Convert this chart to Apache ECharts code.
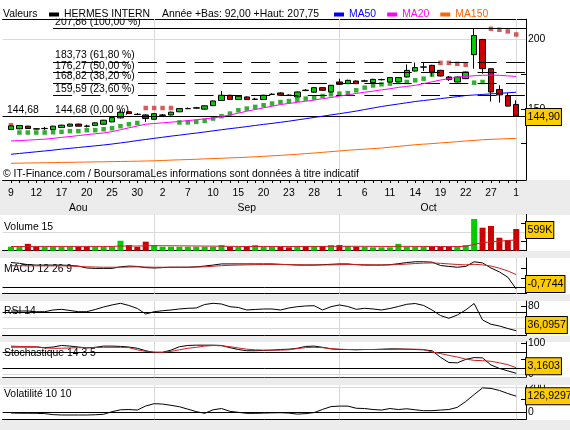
<!DOCTYPE html>
<html>
<head>
<meta charset="utf-8">
<script src="https://cdn.jsdelivr.net/npm/echarts@6/dist/echarts.min.js"></script>
<style>
html,body{margin:0;padding:0;background:#ececec;}
#chart{width:570px;height:430px;}
</style>
</head>
<body>
<div id="chart"></div>
<script>
// ================= DATA =================
const dayLabels = [9,10,11,12,13,16,17,18,19,20,23,24,25,26,27,30,31,
  1,2,3,6,7,8,9,10,13,14,15,16,17,20,21,22,23,24,27,28,29,30,
  1,4,5,6,7,8,11,12,13,14,15,18,19,20,21,22,25,26,27,28,29,
  1];
const monthNames = ['Aou', 'Sep', 'Oct'];
const monthLabelPos = [8, 28, 49.6];

const open  = [135.1,135.6,137.5,135.6,135.7,135.1,136.5,137.5,139.0,137.6,
  138.0,138.9,140.6,143.5,147.9,146.1,145.6,142.5,145.3,145.6,
  147.9,150.1,150.5,149.8,152.3,156.0,159.8,156.7,158.6,156.8,
  156.7,160.4,161.5,159.9,158.6,163.5,162.0,165.3,162.2,169.4,
  168.2,170.1,170.0,168.9,171.0,169.4,169.6,173.0,177.3,180.1,
  181.4,177.8,173.0,169.4,171.8,189.1,200.1,179.0,164.0,159.5,153.2];
const close = [137.7,138.0,135.8,135.4,135.9,137.5,138.2,139.0,137.5,137.4,
  139.9,141.8,143.7,147.5,146.6,145.9,143.0,146.5,145.6,147.6,
  150.2,150.3,150.8,152.2,155.7,159.8,156.8,159.1,156.7,157.0,
  159.8,160.6,159.9,159.7,162.2,163.2,165.3,163.4,167.0,167.7,
  170.6,168.2,170.2,171.3,171.2,172.6,172.6,177.8,179.8,180.3,
  176.6,173.7,171.1,173.0,176.6,203.0,179.0,162.2,160.1,152.0,144.9];
const low   = [134.8,135.3,135.5,135.0,134.6,134.8,136.2,137.2,137.2,136.6,
  137.7,138.6,140.3,143.0,146.3,145.5,140.6,142.0,145.0,145.3,
  147.6,149.8,150.2,149.5,152.0,155.8,156.5,156.4,156.4,156.5,
  156.4,160.1,159.5,159.3,158.3,162.8,161.7,163.1,162.0,167.4,
  167.9,167.9,169.5,168.6,170.5,169.1,169.3,172.7,177.0,177.3,
  173.5,173.4,170.1,169.1,171.5,179.0,175.4,155.3,154.5,151.7,144.6];
const high  = [138.0,138.3,137.8,136.0,137.0,137.8,138.6,139.3,139.3,138.6,
  140.2,142.0,144.0,149.3,148.3,147.0,146.0,147.0,146.3,148.0,
  150.6,151.0,151.4,152.5,156.0,162.9,160.2,159.5,159.0,158.0,
  160.2,161.2,162.0,160.5,162.5,164.2,165.6,165.6,167.3,171.8,
  171.0,170.5,171.0,171.7,171.8,172.9,173.0,182.1,183.4,183.1,
  181.8,178.1,173.7,173.3,176.9,207.75,200.5,179.3,167.0,161.5,156.2];

const sar = [138.2,132.9,132.9,132.9,132.9,133.1,133.4,133.9,133.9,134.6,
  134.6,135.3,136.0,137.5,138.9,139.8,150.6,150.6,150.6,150.6,
  140.2,140.2,140.6,141.4,143.0,144.7,146.6,149.0,150.2,151.4,
  152.6,153.8,154.9,155.6,156.6,157.4,158.1,159.3,160.5,161.0,
  161.4,163.4,165.3,166.9,167.7,168.2,169.4,169.4,170.6,171.8,
  174.7,183.2,183.2,182.5,181.8,168.9,169.4,207.8,207.1,205.9,203.7];

const ma20 = [126.8,127.1,127.4,127.8,128.1,128.7,129.4,130.0,130.7,131.4,
  132.0,132.6,133.5,134.9,136.3,137.6,138.9,139.4,139.9,140.4,
  140.9,141.5,142.1,142.8,143.4,144.4,145.6,146.9,148.3,149.5,
  150.7,151.9,153.1,153.9,154.7,155.5,156.3,157.3,158.2,159.2,
  160.1,161.1,162.0,162.8,163.7,164.5,165.5,166.2,167.0,168.2,
  169.5,170.8,171.8,172.9,173.4,173.9,174.2,174.4,174.2,173.8,173.4];
const ma50 = [117.2,117.8,118.4,119.0,119.6,120.2,120.9,121.5,122.1,122.7,
  123.3,123.9,124.6,125.4,126.2,127.1,127.9,128.7,129.5,130.3,
  131.0,131.8,132.5,133.3,134.1,134.9,135.7,136.4,137.2,138.0,
  138.8,139.5,140.3,141.1,142.0,142.9,143.8,144.7,145.6,146.5,
  147.4,148.4,149.5,150.6,151.7,152.6,153.5,154.4,155.3,156.0,
  156.7,157.4,158.1,158.8,159.6,160.0,160.4,160.8,161.2,161.6,162.0];
const ma150 = [110.7,110.8,110.9,111.0,111.1,111.2,111.3,111.4,111.5,111.6,
  111.7,111.8,111.9,112.0,112.1,112.2,112.35,112.5,112.7,113.0,
  113.2,113.4,113.6,113.9,114.1,114.3,114.6,114.8,115.1,115.4,
  115.7,116.1,116.4,116.8,117.2,117.7,118.1,118.6,119.1,119.6,
  120.1,120.5,120.9,121.3,121.7,122.3,122.9,123.5,124.1,124.5,
  124.9,125.4,125.8,126.3,126.8,127.2,127.7,128.0,128.2,128.5,128.7];

// volume in thousands
const volume = [110,110,190,110,110,110,110,110,110,110,
  110,110,110,275,155,110,250,155,110,110,
  110,110,110,110,110,155,110,110,110,155,
  110,110,110,95,130,130,130,130,155,155,
  130,110,110,95,95,95,190,110,110,110,
  110,110,110,110,155,875,635,682,359,295,599];
const volMA15 = [116,116,118,118,118,118,118,118,118,118,
  118,118,118,128,130,130,135,138,138,136,
  134,132,130,128,126,124,120,118,116,116,
  117,117,117,116,117,118,118,118,120,122,
  122,122,121,120,118,117,120,120,119,118,
  117,116,115,115,120,175,220,245,262,280,300];

const macd = [12.8,12.4,11.7,11.5,11.5,11.5,11.5,11.3,11.0,10.0,
  9.8,9.8,9.8,10.6,11.0,10.8,10.2,10.0,10.2,10.4,
  10.4,10.4,10.6,11.0,11.5,12.1,12.1,12.1,12.1,12.1,
  12.1,12.1,11.9,11.7,11.5,11.5,11.5,11.7,11.9,12.1,
  12.1,11.7,11.5,11.5,11.5,11.7,12.2,12.8,13.2,13.2,
  13.0,11.3,10.8,10.4,10.8,13.2,12.6,10.0,8.0,5.3,-0.7744];
const macdSignal = [11.2,11.2,11.1,11.1,11.1,11.1,11.1,11.0,10.8,10.6,
  10.5,10.4,10.4,10.4,10.5,10.6,10.5,10.4,10.4,10.4,
  10.4,10.4,10.5,10.6,10.9,11.2,11.4,11.5,11.6,11.7,
  11.8,11.8,11.8,11.8,11.7,11.6,11.6,11.6,11.6,11.7,
  11.8,11.8,11.7,11.6,11.6,11.6,11.8,12.0,12.3,12.5,
  12.6,12.4,12.1,11.8,11.6,11.9,11.6,11.0,9.9,8.5,6.6];

const rsi = [71.4,71.4,71.4,70.1,70.1,73.2,74.4,72.3,70.1,70.1,
  74.1,78.6,82.2,85.2,81.3,75.9,66.0,70.1,71.9,73.2,
  75.0,76.2,76.8,83.0,85.2,83.9,79.1,77.7,73.2,74.1,
  75.0,75.0,73.2,76.8,79.1,80.4,80.9,73.2,79.1,82.2,
  79.5,74.4,76.2,75.0,73.2,75.9,79.5,83.4,84.8,81.3,
  73.2,63.3,58.3,64.2,73.2,84.8,55.3,47.6,44.5,40.0,36.0957];

const stochK = [88,88,88,88,86,88,93,91,88,85,
  87,91,91,90,88,84,76,70,71,78,
  89,93,94,94,94,93,86,80,76,76,
  77,78,80,81,84,90,91,87,82,80,
  80,79,80,80,81,82,82,81,80,79,
  76,55,38,37,48,54,53,30,19,11,3.1603];
const stochD = [91,90,89.5,89,85,84,84,85,86,86,
  86,87,87,87,86,79,74,72,71,74,
  79,84,87,91,93,92,89,85,81,79,
  78,78,78,79,83,86,87,86,83,81,
  80,80,80,80,80,80,81,81,81,80,
  72,67,61,56,49,45,44,42,37,31,21.3];

const volatility = [-5,-7,-7,-8,-10,-18,-21,-21,-21,-21,
  -19,-15,5,20,22,18,50,68,65,55,
  44,25,6,-8,20,30,8,0,-8,-8,
  -6,-4,-3,-6,-14,-10,-2,23,45,49,
  49,32,30,22,18,30,22,28,20,13,
  13,18,22,39,85,140,192,188,172,148,126.9297];

const fibLevels = [207.86, 183.73, 176.27, 168.82, 159.59, 144.68];
const fibPercents = ['100,00', '61,80', '50,00', '38,20', '23,60', '0,00'];
const fibStartIndex = 5;

const mainTicks = [125, 150, 175, 200];
const mainLabels = [150, 200];

// ================= LAYOUT / STYLE =================
const FONT = '"Liberation Sans", Arial, sans-serif';
const FS = 10.4;
const X_MIN = -1, X_MAX = 61.16;
const G_LEFT = 2.58, G_RIGHT = 44;
const BOX_DX = 9.3;
const GREY = '#d9d9d9';
const panels = [
  {top: 19,    height: 161,  min: 98.63, max: 214.87},
  {top: 214.5, height: 36.2, min: 0,     max: 1000},
  {top: 258,   height: 35.7, min: -3.18, max: 15.13},
  {top: 301,   height: 34.3, min: 27.85, max: 89.3},
  {top: 341.7, height: 35.6, min: -9.68, max: 105.2},
  {top: 385,   height: 34.3, min: -54.7, max: 214.8}
];

const idx = dayLabels.map((_, i) => i);
const lastI = dayLabels.length - 1;
const pairs = arr => arr.map((v, i) => [i, v]);
const comma = (v, d) => v.toFixed(d).replace('.', ',');
const monthStarts = idx.filter(i => i > 0 && dayLabels[i] < dayLabels[i - 1]);

function gridLines(greyH, blackH) {
  const data = [];
  monthStarts.forEach(i => data.push({xAxis: i, lineStyle: {color: GREY, width: 1, type: 'solid'}}));
  greyH.forEach(v => data.push({yAxis: v, lineStyle: {color: GREY, width: 1, type: 'solid'}}));
  blackH.forEach(v => data.push({yAxis: v, lineStyle: {color: '#000', width: 1, type: 'solid'}}));
  return {silent: true, symbol: 'none', z: 1, animation: false, label: {show: false}, data};
}
function valueBox(value, text, dy) {
  return {
    silent: true, z: 10, animation: false,
    symbol: 'rect', symbolSize: 1, itemStyle: {color: 'rgba(0,0,0,0)'},
    label: {show: true, position: 'right', distance: 0, offset: [BOX_DX, dy],
      formatter: text, backgroundColor: '#ffcc00', borderColor: '#000', borderWidth: 1,
      padding: [3, 1, 2, 1.5], color: '#000', fontSize: 10.6, fontFamily: FONT},
    data: [{coord: [lastI, value]}]
  };
}
const fibLabel = {show: true, position: 'insideStartTop', distance: [2, 1.5], color: '#000', fontSize: FS, fontFamily: FONT};
const fibMarkLine = {
  silent: true, symbol: 'none', z: 3, animation: false, label: {show: false},
  data: [
    {yAxis: fibLevels[fibLevels.length - 1], lineStyle: {color: '#000', width: 1, type: 'solid'},
      label: Object.assign({}, fibLabel, {distance: [4.4, 1.5], formatter: comma(fibLevels[fibLevels.length - 1], 2)})}
  ].concat(fibLevels.map((lv, k) => [
    {coord: [fibStartIndex, lv],
      lineStyle: {color: '#000', width: 1, type: (k === 0 || k === fibLevels.length - 1) ? 'solid' : [19, 9.3]},
      label: Object.assign({}, fibLabel, {formatter: comma(lv, 2) + ' (' + fibPercents[k] + ' %)'})},
    {coord: [X_MAX, lv]}
  ]))
};

function xAxisFor(g) {
  const ax = {gridIndex: g, type: 'value', min: X_MIN, max: X_MAX, position: 'bottom',
    axisLine: {show: true, onZero: false, lineStyle: {color: '#000', width: 1}},
    axisTick: {show: false}, axisLabel: {show: false}, splitLine: {show: false}};
  if (g === 0) {
    ax.axisTick = {show: true, length: 3, customValues: idx, lineStyle: {color: '#000'}};
    ax.axisLabel = {show: true, customValues: idx.filter(i => i % 3 === 0),
      formatter: v => String(dayLabels[v]), margin: 8, color: '#000', fontSize: FS, fontFamily: FONT};
  }
  return ax;
}
function yAxisFor(g, ticks, labels) {
  const p = panels[g];
  return {gridIndex: g, type: 'value', position: 'right', min: p.min, max: p.max,
    axisLine: {show: true, onZero: false, lineStyle: {color: '#000', width: 1}},
    axisTick: {show: true, inside: true, length: 5, customValues: ticks, lineStyle: {color: '#000'}},
    axisLabel: {show: labels.length > 0, customValues: labels, margin: 2, color: '#000',
      fontSize: FS, fontFamily: FONT, formatter: v => String(v)},
    splitLine: {show: false}};
}

const whiteRects = [[0, 0, 180], [0, 215, 36], [0, 258, 36], [0, 301, 34.5], [0, 342, 35.5], [0, 385, 35]];

const mkTitle = (text, left, top, z) => ({text, left, top, padding: 0, z,
  textStyle: {color: '#000', fontSize: FS, fontWeight: 'normal', fontFamily: FONT}});

const option = {
  animation: false,
  backgroundColor: '#ececec',
  textStyle: {fontFamily: FONT},
  graphic: whiteRects.map(r => ({type: 'rect', silent: true, z: -10,
      shape: {x: r[0], y: r[1], width: 570, height: r[2]}, style: {fill: '#ffffff'}}))
    .concat([
      {type: 'rect', silent: true, z: 10, shape: {x: 0, y: 0, width: 570, height: 18.5}, style: {fill: '#ffffff'}},
      {type: 'rect', silent: true, z: 10, shape: {x: 0, y: 377.8, width: 570, height: 7}, style: {fill: '#ececec'}}
    ]),
  title: [
    mkTitle('Valeurs', 3, 9.5, 12),
    mkTitle('Année +Bas: 92,00 +Haut: 207,75', 162, 9.5, 12),
    mkTitle('© IT-Finance.com / BoursoramaLes informations sont données à titre indicatif', 3, 169, 1),
    mkTitle('Volume 15', 4, 221.7, 1),
    mkTitle('MACD 12 26 9', 4, 264.5, 1),
    mkTitle('RSI 14', 4, 306, 1),
    mkTitle('Stochastique 14 3 5', 4, 348.3, 1),
    mkTitle('Volatilité 10 10', 4, 389.3, 1)
  ],
  legend: [
    {left: 49, top: 9.5, padding: 0, z: 11, selectedMode: false, icon: 'rect', itemWidth: 10, itemHeight: 4,
      textStyle: {color: '#000', fontSize: FS, fontFamily: FONT},
      data: [{name: 'HERMES INTERN', itemStyle: {color: '#000', borderWidth: 0}}]},
    {left: 334, top: 9.5, padding: 0, z: 11, selectedMode: false, icon: 'rect', itemWidth: 10, itemHeight: 4, itemGap: 11,
      lineStyle: {width: 4},
      textStyle: {fontSize: FS, fontFamily: FONT},
      data: [
        {name: 'MA50', textStyle: {color: '#0000ff'}},
        {name: 'MA20', textStyle: {color: '#ff00ff'}},
        {name: 'MA150', textStyle: {color: '#ff6600'}}
      ]}
  ],
  grid: panels.map(p => ({left: G_LEFT, right: G_RIGHT, top: p.top, height: p.height, containLabel: false, outerBoundsMode: 'none'})),
  xAxis: [0, 1, 2, 3, 4, 5].map(xAxisFor).concat([
    {gridIndex: 0, type: 'value', min: X_MIN, max: X_MAX, position: 'bottom',
      axisLine: {show: false, onZero: false}, axisTick: {show: false}, splitLine: {show: false},
      axisLabel: {show: true, customValues: monthLabelPos, formatter: v => monthNames[monthLabelPos.indexOf(v)],
        margin: 23, color: '#000', fontSize: FS, fontFamily: FONT}},
    {gridIndex: 0, type: 'value', min: X_MIN, max: X_MAX, position: 'top',
      axisLine: {show: true, onZero: false, lineStyle: {color: '#000', width: 1}},
      axisTick: {show: false}, axisLabel: {show: false}, splitLine: {show: false}}
  ]),
  yAxis: [
    yAxisFor(0, mainTicks, mainLabels),
    yAxisFor(1, [250, 500, 750], []),
    yAxisFor(2, [5, 10], []),
    yAxisFor(3, [40, 60, 80], [80]),
    yAxisFor(4, [0, 50, 100], [0, 100]),
    yAxisFor(5, [0, 100, 200], [0, 200])
  ],
  series: [
    {name: 'MA150', type: 'line', xAxisIndex: 0, yAxisIndex: 0, data: pairs(ma150), symbol: 'none',
      lineStyle: {color: '#ff6600', width: 1}, itemStyle: {color: '#ff6600'}, markLine: gridLines([200], [])},
    {name: 'MA50', type: 'line', xAxisIndex: 0, yAxisIndex: 0, data: pairs(ma50), symbol: 'none',
      lineStyle: {color: '#0000ff', width: 1}, itemStyle: {color: '#0000ff'}},
    {name: 'MA20', type: 'line', xAxisIndex: 0, yAxisIndex: 0, data: pairs(ma20), symbol: 'none',
      lineStyle: {color: '#ff00ff', width: 1}, itemStyle: {color: '#ff00ff'}},
    {name: 'SAR', type: 'scatter', xAxisIndex: 0, yAxisIndex: 0, data: pairs(sar), symbol: 'rect', symbolSize: 4.5,
      itemStyle: {color: p => sar[p.dataIndex] > close[p.dataIndex] ? '#cc3535' : '#009a00'}},
    {name: 'HERMES INTERN', type: 'candlestick', xAxisIndex: 0, yAxisIndex: 0,
      data: idx.map(i => [i, open[i], close[i], low[i], high[i]]), encode: {x: 0, y: [1, 2, 3, 4]},
      barWidth: 6,
      itemStyle: {color: '#00cc00', color0: '#cc0000', borderColor: '#000', borderColor0: '#000', borderWidth: 1},
      markLine: fibMarkLine,
      markPoint: valueBox(close[lastI], comma(close[lastI], 2), 1)},

    {name: 'Volume', type: 'bar', xAxisIndex: 1, yAxisIndex: 1, barWidth: 6,
      data: volume.map((v, i) => ({value: [i, v], itemStyle: {color: close[i] >= open[i] ? '#00cc00' : '#cc0000'}})),
      markLine: gridLines([500], []),
      markPoint: valueBox(volume[lastI], volume[lastI] + 'K', 1)},
    {name: 'VolMA15', type: 'line', xAxisIndex: 1, yAxisIndex: 1, data: pairs(volMA15), symbol: 'none',
      lineStyle: {color: '#cc2020', width: 1}},

    {name: 'MACD', type: 'line', xAxisIndex: 2, yAxisIndex: 2, data: pairs(macd), symbol: 'none',
      lineStyle: {color: '#000', width: 1}, markLine: gridLines([], [0]),
      markPoint: valueBox(macd[lastI], comma(macd[lastI], 4), -5)},
    {name: 'Signal', type: 'line', xAxisIndex: 2, yAxisIndex: 2, data: pairs(macdSignal), symbol: 'none',
      lineStyle: {color: '#cc2020', width: 1}},

    {name: 'RSI', type: 'line', xAxisIndex: 3, yAxisIndex: 3, data: pairs(rsi), symbol: 'none',
      lineStyle: {color: '#000', width: 1}, markLine: gridLines([40, 60], [70]),
      markPoint: valueBox(rsi[lastI], comma(rsi[lastI], 4), -5.7)},

    {name: '%K', type: 'line', xAxisIndex: 4, yAxisIndex: 4, data: pairs(stochK), symbol: 'none',
      lineStyle: {color: '#000', width: 1}, markLine: gridLines([0], [70, 20]),
      markPoint: valueBox(stochK[lastI], comma(stochK[lastI], 4), -7)},
    {name: '%D', type: 'line', xAxisIndex: 4, yAxisIndex: 4, data: pairs(stochD), symbol: 'none',
      lineStyle: {color: '#cc2020', width: 1}},

    {name: 'Volatilite', type: 'line', xAxisIndex: 5, yAxisIndex: 5, data: pairs(volatility), symbol: 'none',
      lineStyle: {color: '#000', width: 1}, markLine: gridLines([200], [0]),
      markPoint: valueBox(volatility[lastI], comma(volatility[lastI], 4), 0)}
  ]
};

const chart = echarts.init(document.getElementById('chart'), null, {renderer: 'canvas'});
chart.setOption(option);
</script>
</body>
</html>
